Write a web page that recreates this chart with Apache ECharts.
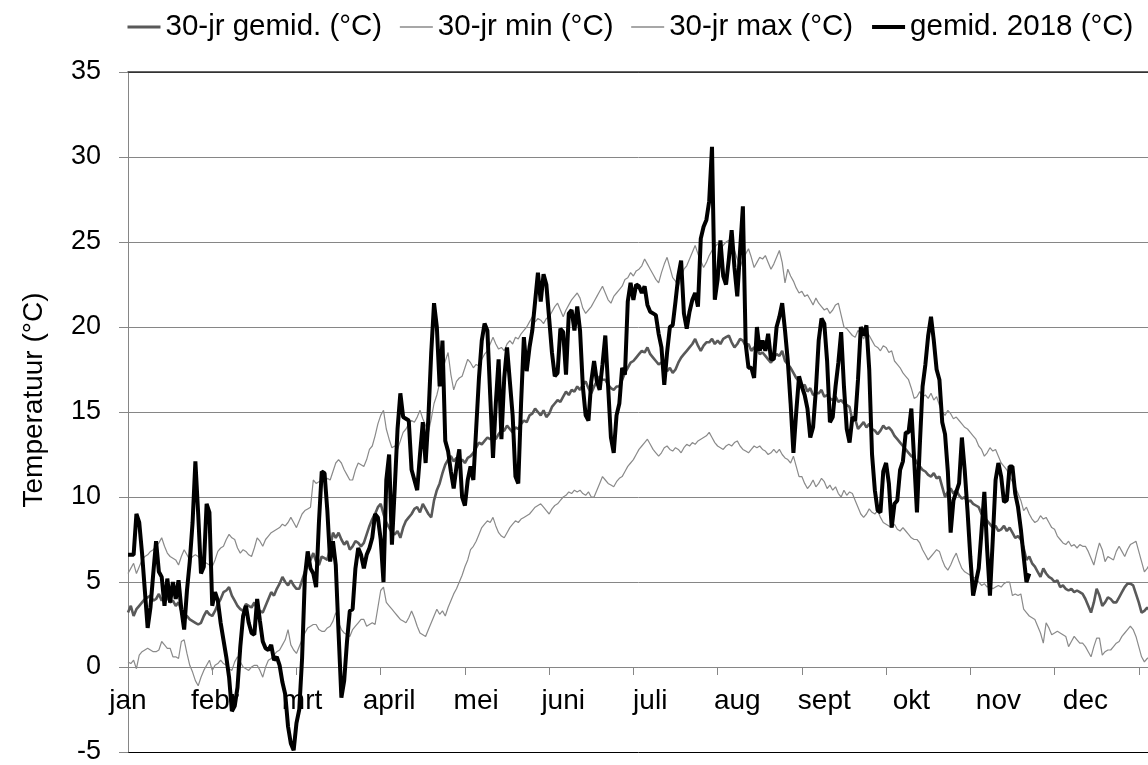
<!DOCTYPE html>
<html>
<head>
<meta charset="utf-8">
<script src="https://cdn.jsdelivr.net/npm/echarts@6/dist/echarts.min.js"></script>
<style>
  html, body { margin: 0; padding: 0; background: #fff; }
  #chart { width: 1148px; height: 765px; }
</style>
</head>
<body>
<div id="chart"></div>
<script>
// maandlabels (elke 31e dag een label, zoals in het origineel)
const months = ['jan', 'febr', 'mrt', 'april', 'mei', 'juni', 'juli', 'aug', 'sept', 'okt', 'nov', 'dec'];
const seriesNames = ['30-jr gemid. (°C)', '30-jr min (°C)', '30-jr max (°C)', 'gemid. 2018 (°C)'];

// 30-jarig daggemiddelde
const mean30 = [
  3.2, 3.6, 3.0, 3.4, 3.6, 3.8, 4.0, 4.1, 4.2, 3.9,
  4.0, 4.3, 3.9, 4.2, 4.1, 3.8, 3.9, 3.6, 3.8, 3.3,
  3.1, 3.0, 2.8, 2.7, 2.6, 2.5, 2.6, 3.0, 3.3, 3.1,
  3.0, 3.3, 3.7, 4.0, 4.4, 4.5, 4.7, 4.2, 3.9, 3.6,
  3.4, 3.3, 3.7, 3.6, 3.5, 3.8, 3.4, 3.3, 3.2, 3.6,
  4.0, 4.4, 4.2, 4.6, 4.9, 5.3, 5.0, 4.8, 5.1, 4.8,
  4.6, 4.6, 5.1, 5.6, 6.0, 6.3, 6.7, 6.2, 6.0, 6.5,
  6.4, 6.3, 7.0, 7.9, 7.6, 7.9, 7.5, 7.2, 7.4, 6.9,
  7.1, 7.4, 7.3, 7.1, 7.3, 7.8, 8.3, 8.7, 9.0, 9.4,
  9.6, 9.0, 8.5, 8.2, 7.9, 7.8, 8.0, 7.6, 8.2, 8.6,
  8.8, 9.0, 9.3, 9.4, 9.1, 9.6, 9.3, 9.0, 8.8, 9.8,
  10.4, 10.8, 11.4, 11.9, 12.2, 12.4, 12.1, 12.3, 12.0, 12.2,
  12.0, 12.3, 12.4, 12.6, 12.9, 13.2, 13.1, 13.3, 13.5, 13.4,
  13.6, 13.4, 13.7, 13.9, 13.9, 14.2, 14.0, 13.8, 14.1, 14.0,
  14.3, 14.5, 14.4, 14.8, 14.9, 15.2, 15.0, 14.8, 15.1, 14.7,
  14.9, 15.3, 15.5, 15.7, 15.6, 15.9, 16.2, 16.0, 16.3, 16.2,
  16.5, 16.3, 16.6, 16.8, 16.4, 16.1, 16.5, 16.8, 17.1, 16.9,
  16.9, 16.6, 16.4, 16.3, 16.5, 16.5, 16.9, 17.3, 17.6, 17.9,
  18.0, 18.2, 18.4, 18.6, 18.5, 18.8, 18.4, 18.2, 18.0, 17.8,
  17.9, 17.7, 17.4, 17.6, 17.3, 17.5, 17.9, 18.2, 18.4, 18.6,
  18.8, 19.0, 19.3, 18.9, 18.6, 18.9, 19.1, 19.1, 19.3, 19.0,
  19.2, 19.0, 19.3, 19.4, 19.5, 19.1, 18.8, 19.0, 19.3, 19.2,
  18.9, 19.0, 18.6, 18.8, 18.7, 18.4, 18.5, 18.3, 18.1, 17.9,
  18.2, 18.4, 18.3, 18.6, 18.0, 17.8, 17.6, 17.3, 17.0, 16.8,
  16.5, 16.6, 16.2, 16.4, 16.0, 16.1, 16.1, 16.3, 15.9, 16.0,
  15.8, 15.7, 15.9, 15.6, 15.7, 15.5, 15.4, 15.3, 14.5, 14.6,
  14.0, 14.2, 14.4, 14.1, 14.3, 14.0, 13.9, 13.7, 13.9, 14.2,
  14.0, 14.1, 13.9, 13.6, 13.4, 13.2, 13.0, 12.8, 12.6, 12.4,
  12.3, 12.0, 11.8, 11.6, 11.5, 11.3, 11.2, 11.4, 11.1, 11.2,
  10.6, 10.0, 10.3, 10.5, 10.2, 10.4, 10.1, 9.9, 10.0, 9.7,
  9.8, 9.6, 9.5, 9.4, 9.0, 8.8, 8.6, 8.4, 8.2, 8.3,
  8.0, 8.1, 8.3, 8.0, 8.2, 7.9, 7.6, 7.7, 7.5, 7.0,
  6.3, 6.5, 6.1, 5.9, 5.6, 5.3, 5.8, 5.5, 5.3, 5.2,
  5.0, 5.1, 4.7, 4.8, 4.6, 4.5, 4.6, 4.4, 4.5, 4.4,
  4.3, 4.0, 3.6, 3.2, 3.8, 4.6, 4.2, 3.6, 3.8, 4.1,
  4.0, 3.8, 3.8, 4.1, 4.4, 4.7, 4.9, 4.9, 4.8, 4.3,
  3.8, 3.2, 3.3, 3.5, 3.3
];

// 30-jarig minimum
const min30 = [
  0.3, 0.2, 0.4, -0.1, 0.7, 0.9, 1.0, 1.1, 1.0, 0.9,
  0.9, 1.0, 1.5, 1.3, 1.1, 1.1, 0.6, 0.6, 0.5, 1.5,
  1.6, 0.8, 0.1, -0.3, -0.8, -1.1, -0.6, -0.2, 0.1, 0.4,
  -0.2, 0.1, 0.2, 0.4, 0.2, 0.1, -0.1, -0.2, 0.3, 0.6,
  0.3, 0.0, -0.1, -0.2, 0.0, 0.1, 0.1, -0.2, -0.6, 0.0,
  0.4, 0.5, 0.7, 0.9, 1.0, 1.3, 1.6, 2.2, 1.3, 1.0,
  0.8, 1.2, 1.6, 2.0, 2.3, 2.4, 2.5, 2.5, 2.2, 2.1,
  2.1, 2.3, 2.4, 2.7, 3.2, 2.6, 2.2, 2.0, 1.9, 1.8,
  2.2, 2.4, 2.6, 2.8, 2.8, 2.4, 2.5, 2.6, 2.5, 3.5,
  4.5, 4.7, 3.8, 3.6, 3.4, 3.2, 3.0, 2.8, 2.7, 2.6,
  2.9, 3.3, 2.9, 2.4, 2.0, 1.9, 1.8, 2.2, 2.6, 3.0,
  3.4, 3.1, 3.3, 3.0, 3.5, 3.9, 4.3, 4.6, 5.0, 5.4,
  5.9, 6.3, 6.9, 7.1, 7.4, 7.8, 8.2, 8.4, 8.6, 8.5,
  8.8, 8.3, 7.9, 7.7, 7.6, 7.9, 8.2, 8.4, 8.6, 8.5,
  8.7, 8.8, 8.9, 9.0, 9.2, 9.4, 9.5, 9.6, 9.4, 9.2,
  9.0, 9.3, 9.5, 9.6, 9.8, 10.0, 10.1, 10.3, 10.2, 10.4,
  10.3, 10.4, 10.2, 10.1, 10.3, 10.0, 10.0, 10.4, 10.8, 11.2,
  11.0, 10.8, 10.7, 10.6, 10.9, 11.1, 11.2, 11.5, 11.8, 12.0,
  12.2, 12.5, 12.8, 13.0, 13.2, 13.4, 13.1, 12.8, 12.6, 12.4,
  12.6, 12.9, 13.0, 12.8, 12.7, 12.9, 12.8, 12.6, 12.9, 13.1,
  13.0, 13.2, 13.1, 13.3, 13.4, 13.5, 13.6, 13.8, 13.5, 13.2,
  13.0, 12.9, 12.8, 13.0, 13.1, 13.0, 13.2, 13.3, 13.0, 12.8,
  12.7, 12.6, 12.8, 13.0, 12.9, 13.0, 12.8, 12.7, 12.5, 12.6,
  12.8, 12.6, 12.8, 12.5, 12.3, 12.2, 12.0, 12.4, 11.8, 11.2,
  11.2, 10.8, 10.5, 10.7, 11.0, 10.6, 10.8, 11.1, 10.9, 10.5,
  10.7, 10.4, 10.6, 10.2, 10.0, 10.4, 10.1, 10.3, 10.2, 9.8,
  9.4, 9.0, 8.8, 9.0, 9.3, 9.1, 9.0, 9.2, 8.8, 8.5,
  8.4, 8.3, 8.2, 8.4, 8.1, 8.0, 8.2, 8.0, 7.8, 7.6,
  7.5, 7.5, 7.3, 6.9, 6.6, 6.3, 6.5, 6.7, 6.9, 6.8,
  6.3, 5.9, 5.7, 6.0, 6.4, 6.7, 6.2, 5.8, 5.6, 5.5,
  5.4, 5.3, 5.2, 5.0, 4.8, 4.9, 4.7, 4.8, 4.6, 4.7,
  4.8, 4.7, 4.9, 5.0, 5.0, 4.2, 4.3, 4.2, 4.3, 3.4,
  3.2, 3.0, 2.9, 2.8, 2.4, 2.0, 1.4, 2.6, 2.3, 1.9,
  2.0, 2.1, 2.0, 1.9, 1.8, 1.2, 1.5, 1.8, 1.6, 1.4,
  1.4, 1.2, 0.9, 0.6, 1.2, 1.7, 1.7, 0.7, 0.9, 1.0,
  1.0, 1.2, 1.4, 1.5, 1.8, 2.0, 2.2, 2.4, 2.2, 1.8,
  1.2, 0.6, 0.3, 0.5, 0.6
];

// 30-jarig maximum
const max30 = [
  5.5, 5.8, 6.1, 5.5, 5.9, 6.3, 6.5, 6.6, 6.8, 6.9,
  7.1, 7.3, 7.6, 7.1, 6.7, 6.5, 6.4, 6.3, 6.0, 6.5,
  6.9, 6.6, 6.3, 6.5, 6.6, 6.5, 6.3, 6.2, 6.1, 6.0,
  5.9, 6.3, 6.8, 7.0, 7.1, 7.5, 7.8, 7.6, 7.5, 7.0,
  6.7, 6.9, 6.8, 6.6, 6.5, 7.0, 7.6, 7.4, 7.1, 7.5,
  7.7, 7.9, 8.0, 8.1, 8.2, 8.4, 8.3, 8.5, 8.8, 8.5,
  8.2, 8.6, 9.0, 9.2, 9.3, 9.4, 11.0, 10.8, 10.9, 11.0,
  10.9, 11.1, 11.0, 11.5, 12.0, 12.2, 12.0, 11.6, 11.3, 11.0,
  11.0, 11.6, 12.0, 11.9, 11.8, 12.2, 12.8, 13.0, 13.6, 14.3,
  14.8, 15.1, 14.0, 13.4, 12.9, 13.0, 12.8, 13.3, 13.8, 14.0,
  14.3, 14.5, 14.4, 14.7, 15.1, 14.6, 14.2, 13.8, 14.6, 15.5,
  16.0, 16.7, 17.5, 18.0, 18.5, 17.2, 16.3, 16.8, 17.0, 17.1,
  17.6, 18.1, 17.9, 17.6, 17.8, 17.7, 18.1, 18.4, 18.6, 19.0,
  19.4, 19.0, 18.7, 18.8, 18.6, 19.0, 19.2, 19.0, 19.4, 19.3,
  19.6, 19.8, 20.0, 20.3, 20.6, 20.3, 20.5, 20.4, 20.2, 20.5,
  20.6, 20.9, 21.2, 21.4, 21.0, 20.6, 21.0, 21.3, 21.6, 21.8,
  22.0, 21.7, 21.1, 20.8, 21.0, 21.2, 21.5, 21.8, 22.1, 22.4,
  22.0, 21.6, 21.4, 21.8, 22.0, 22.2, 22.4, 22.8, 22.9, 23.2,
  23.0, 23.3, 23.4, 23.6, 24.0, 23.7, 23.4, 23.1, 22.8, 22.6,
  23.2, 23.7, 24.1, 23.5, 22.9, 22.7, 22.4, 22.9, 23.4, 23.6,
  24.0, 24.4, 24.8, 24.3, 23.9, 23.5, 23.8, 24.2, 24.5, 24.7,
  24.9, 24.6, 24.8, 25.0, 25.1, 24.8, 24.5, 24.0, 23.5, 24.0,
  24.3, 24.6, 24.1, 23.5, 23.8, 24.1, 24.0, 24.2, 23.8, 23.4,
  23.7, 24.1, 24.5, 23.8, 22.6, 23.4, 23.0, 22.7, 22.3, 22.0,
  22.1, 21.8, 21.9, 21.6, 21.3, 21.7, 21.4, 21.2, 21.0, 21.1,
  20.8, 21.0, 21.3, 21.4, 20.7, 20.0, 19.9, 19.7, 19.5, 19.4,
  19.8, 19.6, 19.3, 19.7, 19.5, 19.2, 18.9, 18.8, 18.6, 18.9,
  18.8, 18.5, 18.6, 18.0, 17.8, 17.6, 17.3, 17.1, 16.9, 16.4,
  15.8, 15.9, 16.2, 15.9, 16.0, 15.8, 16.1, 15.7, 15.9, 15.4,
  15.0, 14.8, 15.1, 14.9, 14.6, 14.7, 14.5, 14.3, 14.1, 14.0,
  13.8, 13.6, 13.4, 13.0, 12.8, 12.4, 12.6, 12.9, 12.7, 12.8,
  12.4, 12.0, 11.8, 11.6, 11.2, 10.9, 10.6, 10.2, 9.8, 9.2,
  9.4, 9.0, 8.7, 8.5, 8.6, 8.9, 8.7, 8.8, 8.5, 8.2,
  8.1, 7.7, 7.5, 7.3, 7.2, 7.4, 7.1, 7.2, 7.0, 7.2,
  7.1, 7.1, 6.8, 6.4, 6.0, 6.7, 7.3, 6.9, 6.2, 6.5,
  6.4, 6.3, 6.8, 7.1, 6.8, 6.5, 6.9, 7.2, 7.3, 7.4,
  6.8, 6.2, 5.6, 5.8, 6.1
];

// daggemiddelde 2018 (tot half november)
const mean2018 = [
  6.6, 6.6, 6.6, 9.0, 8.5, 6.7, 4.5, 2.3, 3.5, 5.5,
  7.4, 5.6, 5.3, 3.6, 5.2, 3.8, 5.0, 4.0, 5.1, 3.4,
  2.2, 4.5, 6.2, 8.5, 12.1, 9.0, 5.5, 5.9, 9.6, 9.1,
  3.6, 4.4, 3.9, 2.6, 1.6, 0.6, -0.6, -2.6, -2.3, -1.2,
  1.2, 3.0, 3.6, 2.6, 2.0, 1.9, 4.0, 2.7, 1.5, 1.1,
  1.0, 1.3, 0.4, 0.6, 0.1, -0.9, -1.6, -3.5, -4.5, -4.9,
  -3.3, -2.5, 0.5, 5.3, 6.8, 5.8, 5.5, 4.7, 8.5, 11.5,
  11.4, 9.2, 6.2, 7.4, 6.0, 2.0, -1.8, -0.8, 1.5, 3.3,
  3.4, 5.8, 7.0, 6.6, 5.8, 6.6, 7.0, 7.6, 9.0, 8.8,
  7.5, 5.0, 11.0, 12.5, 7.2, 10.5, 14.0, 16.1, 14.7, 14.6,
  14.5, 11.6, 11.0, 10.4, 12.5, 14.4, 12.0, 14.7, 18.5, 21.4,
  20.0, 16.5, 19.2, 13.3, 12.7, 11.5, 10.5, 11.8, 12.8, 10.0,
  9.5, 11.0, 11.8, 11.0, 14.0, 17.0, 19.2, 20.2, 19.8, 16.0,
  12.3, 15.5, 18.1, 13.4, 17.0, 18.8, 16.8, 14.8, 11.2, 10.8,
  15.5, 19.4, 17.4, 18.8, 19.8, 21.5, 23.2, 21.5, 23.1, 22.5,
  20.5, 18.5, 17.1, 17.3, 19.9, 19.7, 17.2, 20.8, 21.0, 19.8,
  21.2, 19.8, 16.5, 14.8, 14.5, 16.8, 18.0, 16.8, 16.3, 17.8,
  19.5, 16.5, 13.5, 12.6, 14.8, 15.5, 17.6, 17.2, 21.5, 22.6,
  21.6, 22.5, 22.4, 22.0, 22.4, 21.3, 20.9, 20.8, 20.7, 19.6,
  18.8, 16.6, 18.5, 20.0, 20.1, 21.5, 23.0, 23.9, 20.8, 19.9,
  20.9, 21.6, 22.0, 21.2, 25.2, 25.9, 26.3, 27.4, 30.6, 21.6,
  22.8, 25.1, 23.0, 22.5, 24.0, 25.7, 23.5, 21.8, 24.5, 27.1,
  19.0, 17.6, 17.6, 17.0, 20.0, 18.6, 19.2, 18.6, 19.6, 18.1,
  18.1, 20.0, 20.6, 21.4, 19.8, 18.0, 15.5, 12.6, 15.0, 17.1,
  16.5, 16.0, 15.2, 13.5, 14.1, 16.3, 19.2, 20.5, 20.2, 18.0,
  14.4, 14.7, 16.5, 17.9, 19.7, 16.5, 14.0, 13.2, 14.7, 14.5,
  16.9, 20.0, 19.5, 20.1, 17.5, 12.5, 10.4, 9.2, 9.1, 11.5,
  12.0, 10.8, 8.2, 9.6, 9.8, 11.6, 12.1, 13.8, 13.8, 15.2,
  12.2, 9.1, 13.0, 16.5, 17.8, 19.5, 20.6, 19.2, 17.5, 16.9,
  14.4, 13.7, 11.5, 7.9, 9.8, 10.3, 10.8, 13.5, 11.6, 9.2,
  6.5, 4.2, 5.0, 5.8, 8.0, 10.3, 6.9, 4.2, 7.5, 11.0,
  12.0, 11.2, 9.7, 9.8, 11.8, 11.8, 10.2, 9.4, 8.1, 6.5,
  5.0, 5.5
];

// y-as
const yMin = -5, yMax = 35, yStep = 5;

// categorie-as: een label om de 31 dagen
const days = mean30.map((v, i) => (i % 31 === 0 ? months[i / 31] : ''));

const font = 'Liberation Sans, Arial, sans-serif';
const gridGray = '#868686';
const meanGray = '#595959';
const thinGray = '#8a8a8a';

// plotvlak
const plotTop = 72, plotHeight = 680;
// x-as ligt op 0 graden: afstand tot onderrand in pixels
const zeroOffset = (0 - yMin) / (yMax - yMin) * plotHeight;

let chart = echarts.init(document.getElementById('chart'), null, { renderer: 'canvas' });

chart.setOption({
  animation: false,
  backgroundColor: '#fff',
  textStyle: { fontFamily: font, color: '#000' },
  legend: {
    left: 126,
    top: 12,
    padding: 0,
    itemWidth: 33,
    itemHeight: 14,
    itemGap: 17,
    itemStyle: { opacity: 0 },
    textStyle: { fontSize: 29.5, color: '#000', fontFamily: font },
    data: [
      { name: seriesNames[0], lineStyle: { width: 3, color: meanGray } },
      { name: seriesNames[1], lineStyle: { width: 1.3, color: thinGray } },
      { name: seriesNames[2], lineStyle: { width: 1.3, color: thinGray } },
      { name: seriesNames[3], lineStyle: { width: 4, color: '#000' } }
    ]
  },
  grid: {
    left: 128,
    top: plotTop,
    width: 1022,
    height: plotHeight,
    containLabel: false,
    outerBoundsMode: 'none'
  },
  xAxis: [
    {
      type: 'category',
      data: days,
      position: 'bottom',
      offset: -zeroOffset,
      boundaryGap: false,
      axisLine: { onZero: false, lineStyle: { color: gridGray, width: 1 } },
      axisTick: { interval: 29, length: 8, lineStyle: { color: gridGray } },
      axisLabel: { interval: 30, fontSize: 28, color: '#000', margin: 20, fontFamily: font },
      splitLine: { show: false }
    },
    {
      // bovenrand van het plotvlak
      type: 'category',
      data: days,
      position: 'top',
      boundaryGap: false,
      axisLine: { onZero: false, lineStyle: { color: '#333', width: 1.5 } },
      axisTick: { show: false },
      axisLabel: { show: false },
      splitLine: { show: false }
    }
  ],
  yAxis: {
    type: 'value',
    min: yMin,
    max: yMax,
    interval: yStep,
    name: 'Temperatuur (°C)',
    nameLocation: 'middle',
    nameGap: 80,
    nameTextStyle: { fontSize: 28, color: '#000', fontFamily: font, padding: [0, 0, 0, 24] },
    axisLine: { show: true, onZero: false, lineStyle: { color: gridGray } },
    axisTick: { show: true, length: 9, lineStyle: { color: gridGray } },
    axisLabel: { fontSize: 27, color: '#000', margin: 27, fontFamily: font },
    splitLine: {
      lineStyle: {
        color: ['#000', gridGray, gridGray, gridGray, gridGray, gridGray, gridGray, gridGray, '#333'],
        width: 1
      }
    }
  },
  series: [
    {
      name: seriesNames[0],
      type: 'line',
      data: mean30,
      symbol: 'none',
      lineStyle: { color: meanGray, width: 2.6 },
      itemStyle: { color: meanGray },
      z: 2
    },
    {
      name: seriesNames[1],
      type: 'line',
      data: min30,
      symbol: 'none',
      lineStyle: { color: thinGray, width: 1.2 },
      itemStyle: { color: thinGray },
      z: 2
    },
    {
      name: seriesNames[2],
      type: 'line',
      data: max30,
      symbol: 'none',
      lineStyle: { color: thinGray, width: 1.2 },
      itemStyle: { color: thinGray },
      z: 2
    },
    {
      name: seriesNames[3],
      type: 'line',
      data: mean2018,
      symbol: 'none',
      lineStyle: { color: '#000', width: 4 },
      itemStyle: { color: '#000' },
      z: 3
    }
  ]
});

window.addEventListener('resize', function () {
  chart.resize();
});
</script>
</body>
</html>
